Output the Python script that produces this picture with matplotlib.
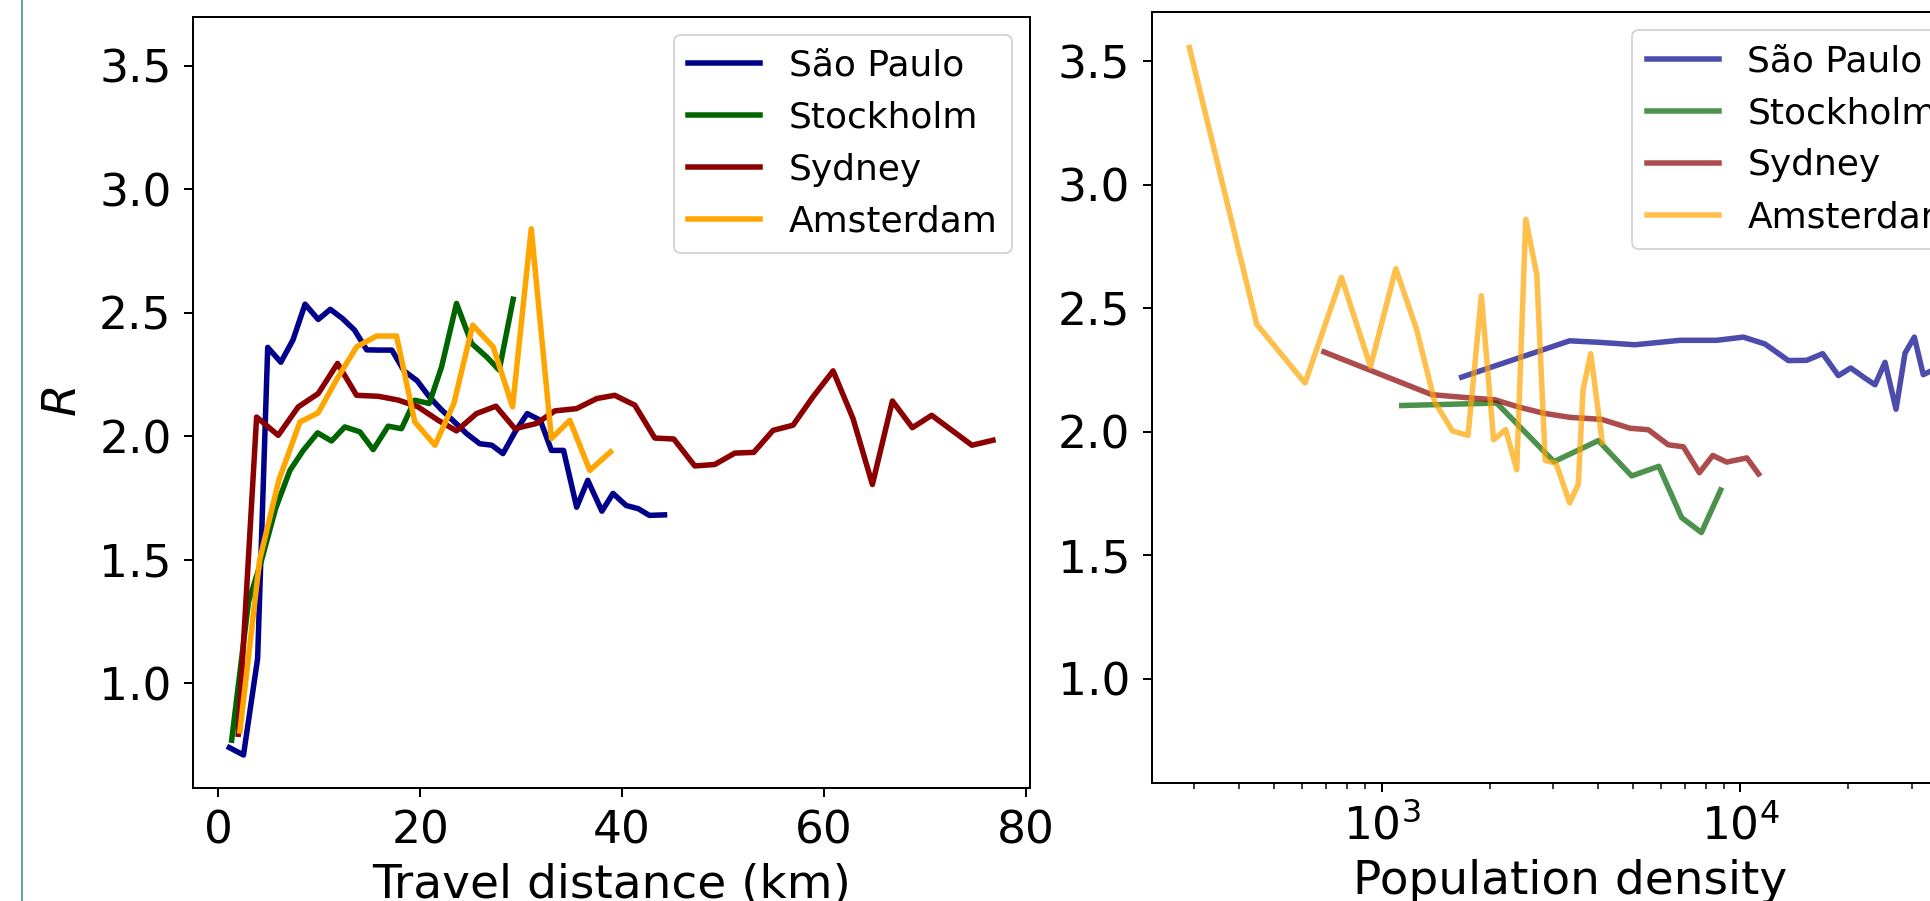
import matplotlib
matplotlib.use('Agg')
import matplotlib.pyplot as plt
from matplotlib.lines import Line2D

DPI = 100
W, H = 1930, 901


def pt(px):
    return px * 72.0 / DPI


cities = ['São Paulo', 'Stockholm', 'Sydney', 'Amsterdam']
colors = ['darkblue', 'darkgreen', 'darkred', 'orange']

# ---- left panel: R vs travel distance (km) ----
sp_dist = [1.1, 2.5, 3.9, 4.9, 6.2, 7.4, 8.6, 9.9, 11.1, 12.3, 13.5, 14.7, 16.0, 17.2,
           18.4, 19.7, 20.9, 22.1, 23.4, 24.6, 25.9, 27.1, 28.2, 29.4, 30.6, 31.9, 33.0,
           34.2, 35.5, 36.6, 38.0, 39.1, 40.4, 41.6, 42.7, 44.2]
sp_r_dist = [0.74, 0.71, 1.10, 2.36, 2.30, 2.39, 2.535, 2.473, 2.514, 2.477, 2.43, 2.35,
             2.349, 2.349, 2.265, 2.225, 2.16, 2.108, 2.058, 2.011, 1.97, 1.964, 1.93,
             2.018, 2.092, 2.065, 1.943, 1.943, 1.713, 1.822, 1.697, 1.769, 1.72, 1.707,
             1.68, 1.682]

st_dist = [1.33, 3.0, 4.3, 5.7, 7.1, 8.42, 9.84, 11.22, 12.54, 14.03, 15.35, 16.83, 18.15,
           19.47, 20.9, 22.12, 23.6, 25.09, 26.57, 27.83, 29.21]
st_r_dist = [0.77, 1.33, 1.50, 1.71, 1.862, 1.943, 2.014, 1.981, 2.038, 2.018, 1.946, 2.041,
             2.031, 2.146, 2.133, 2.281, 2.538, 2.376, 2.322, 2.268, 2.555]

sy_dist = [1.98, 3.8, 5.94, 7.92, 9.9, 11.82, 13.7, 15.85, 17.8, 19.8, 21.78, 23.6, 25.58,
           27.5, 29.38, 31.52, 33.34, 35.48, 37.5, 39.27, 41.26, 43.24, 45.12, 47.2, 49.18,
           51.16, 53.04, 54.95, 56.93, 58.91, 60.9, 62.87, 64.79, 66.77, 68.75, 70.66,
           72.67, 74.65, 76.73]
sy_r_dist = [0.794, 2.078, 2.004, 2.119, 2.173, 2.295, 2.166, 2.162, 2.147, 2.119, 2.065,
             2.022, 2.092, 2.122, 2.031, 2.052, 2.103, 2.112, 2.153, 2.166, 2.126, 1.993,
             1.989, 1.880, 1.886, 1.932, 1.935, 2.024, 2.045, 2.160, 2.265, 2.072, 1.805,
             2.143, 2.035, 2.085, 2.024, 1.964, 1.984]

am_dist = [2.15, 4.1, 6.0, 8.09, 9.9, 11.8, 13.7, 15.68, 17.66, 19.47, 21.46, 23.34, 25.2,
           27.23, 29.15, 31.0, 33.0, 34.82, 36.8, 38.85]
am_r_dist = [0.807, 1.50, 1.822, 2.058, 2.095, 2.235, 2.362, 2.406, 2.406, 2.058, 1.964,
             2.133, 2.45, 2.362, 2.119, 2.84, 1.991, 2.065, 1.862, 1.937]

# ---- right panel: R vs population density ----
sp_dens = [1670, 3340, 4015, 5080, 6782, 8583, 10190, 11708, 13598, 15293, 16949, 18744,
           20289, 22236, 23714, 25290, 27139, 28752, 30519, 32328, 33747, 36000]
sp_r_dens = [2.221, 2.368, 2.362, 2.352, 2.370, 2.370, 2.383, 2.355, 2.288, 2.289, 2.316,
             2.227, 2.258, 2.217, 2.190, 2.281, 2.091, 2.318, 2.383, 2.231, 2.244, 2.26]

st_dens = [1137, 2091, 3020, 4016, 4973, 5920, 6855, 7780, 8806]
st_r_dens = [2.106, 2.116, 1.879, 1.964, 1.821, 1.860, 1.652, 1.592, 1.764]

sy_dens = [690, 1378, 1690, 2070, 2380, 2820, 3350, 4100, 4920, 5535, 6290, 6930, 7680,
           8370, 9150, 10420, 11230]
sy_r_dens = [2.323, 2.150, 2.139, 2.129, 2.102, 2.075, 2.058, 2.050, 2.014, 2.008, 1.947,
             1.939, 1.834, 1.904, 1.877, 1.894, 1.829]

am_dens = [290.8, 448, 611, 772, 930, 1094, 1250, 1405, 1575, 1740, 1895, 2050, 2215, 2378,
           2520, 2705, 2855, 3060, 3340, 3530, 3640, 3823, 4120]
am_r_dens = [3.555, 2.435, 2.197, 2.625, 2.263, 2.660, 2.415, 2.12, 2.003, 1.985, 2.55,
             1.967, 2.009, 1.846, 2.86, 2.635, 1.884, 1.872, 1.712, 1.787, 2.169, 2.316,
             1.956]

dist_series = [(sp_dist, sp_r_dist), (st_dist, st_r_dist), (sy_dist, sy_r_dist),
               (am_dist, am_r_dist)]
dens_series = [(sp_dens, sp_r_dens), (st_dens, st_r_dens), (sy_dens, sy_r_dens),
               (am_dens, am_r_dens)]

y_ticks = [1.0, 1.5, 2.0, 2.5, 3.0, 3.5]
x_ticks_dist = [0, 20, 40, 60, 80]

TICK_FS = pt(45.5)
LABEL_FS = pt(47)
LEG_FS = pt(36)
LW = pt(5.5)

plt.rcParams['font.family'] = ['DejaVu Sans']
plt.rcParams['mathtext.fontset'] = 'dejavusans'
plt.rcParams['axes.linewidth'] = pt(2.0)
plt.rcParams['legend.fontsize'] = LEG_FS
plt.rcParams['patch.linewidth'] = pt(2.0)

fig = plt.figure(figsize=(W / DPI, H / DPI), dpi=DPI)

# left axes: pixel box x 193..1030, y 16.6..787.6
axL = fig.add_axes([193 / W, (H - 787.6) / H, 837 / W, 771 / H])
# right axes: pixel box x 1151.5..1988.5, y 12..783
axR = fig.add_axes([1151.5 / W, (H - 783) / H, 837 / W, 771 / H])

for (xs, ys), c, name in zip(dist_series, colors, cities):
    axL.plot(xs, ys, color=c, lw=LW, label=name)

for (xs, ys), c, name in zip(dens_series, colors, cities):
    axR.plot(xs, ys, color=c, lw=LW, alpha=0.7, label=name)

axR.set_xscale('log')

for ax in (axL, axR):
    ax.set_ylim(0.578, 3.699)
    ax.set_yticks(y_ticks)
    ax.tick_params(which='major', labelsize=TICK_FS, length=pt(9.4), width=pt(2.0),
                   pad=pt(12))
    ax.tick_params(which='minor', length=pt(5.5), width=pt(1.5))
    ax.legend(loc='upper right', handlelength=2.0)

axL.set_xlim(-2.5, 80.4)
axL.set_xticks(x_ticks_dist)
axR.set_xlim(10 ** 2.358, 10 ** 4.6914)

axL.set_xlabel('Travel distance (km)', fontsize=LABEL_FS)
axL.xaxis.set_label_coords(0.5, -(863.0 - 787.6) / 771)
axL.set_ylabel('$R$', fontsize=LABEL_FS)
axL.yaxis.set_label_coords(-(193 - 86) / 837, 0.5)

axR.set_xlabel('Population density', fontsize=LABEL_FS)
axR.xaxis.set_label_coords(0.5, -(859.5 - 783) / 771)

# thin teal frame line at the left edge of the image
fig.add_artist(Line2D([21.7 / W, 21.7 / W], [0, 1], transform=fig.transFigure,
                      color='#2b8a80', lw=pt(1.5)))

fig.savefig('out.png', dpi=DPI)
